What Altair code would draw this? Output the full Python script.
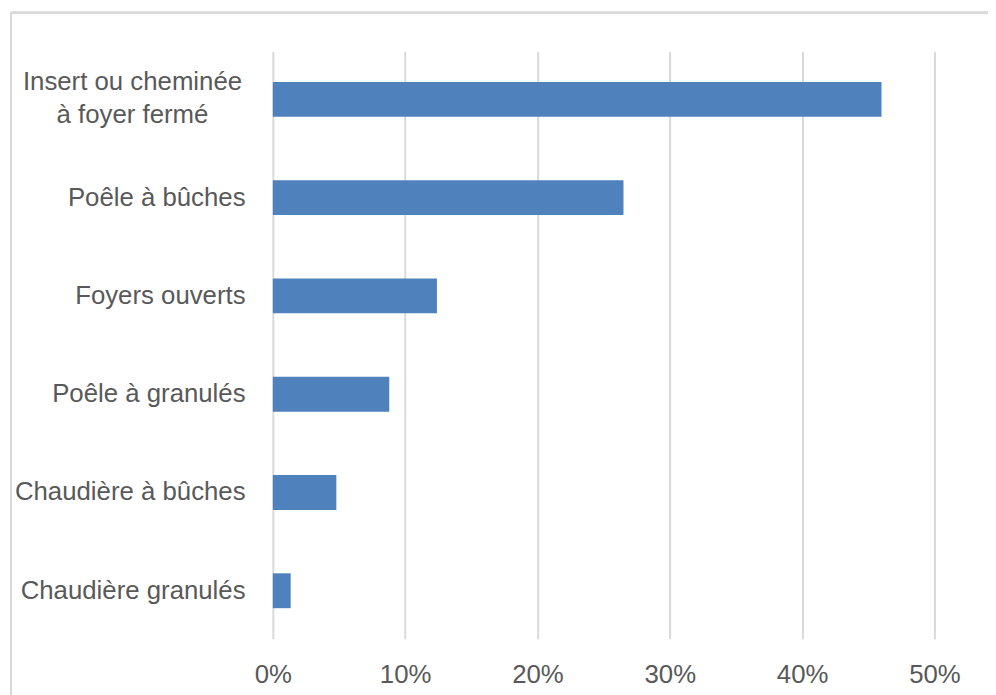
import altair as alt
import pandas as pd

categories = [
    "Insert ou cheminée à foyer fermé",
    "Poêle à bûches",
    "Foyers ouverts",
    "Poêle à granulés",
    "Chaudière à bûches",
    "Chaudière granulés",
]
values = [0.46, 0.265, 0.124, 0.088, 0.048, 0.0135]
x_ticks = [0, 0.1, 0.2, 0.3, 0.4, 0.5]

df = pd.DataFrame({"cat": categories, "val": values})

FONT = "Liberation Sans"
TXT = "#595959"
GRID = "#d9d9d9"

FIRST = "datum.value == 'Insert ou cheminée à foyer fermé'"
label_expr = f"{FIRST} ? ['Insert ou cheminée', 'à foyer fermé'] : datum.value"

bars = alt.Chart(df).mark_bar(color="#4f81bd").encode(
    x=alt.X(
        "val:Q",
        scale=alt.Scale(domain=[0, 0.5], nice=False, zero=True),
        axis=alt.Axis(
            values=x_ticks,
            format=".0%",
            title=None,
            domain=False,
            ticks=False,
            grid=True,
            gridColor=GRID,
            gridWidth=2,
            labelFont=FONT,
            labelFontSize=26,
            labelColor=TXT,
            labelPadding=23,
            labelFlush=False,
        ),
    ),
    y=alt.Y(
        "cat:N",
        sort=categories,
        scale=alt.Scale(paddingInner=0.645, paddingOuter=0.31),
        axis=alt.Axis(
            title=None,
            domain=False,
            ticks=False,
            grid=False,
            labelFont=FONT,
            labelFontSize=26,
            labelColor=TXT,
            labelPadding={"condition": {"test": FIRST, "value": 142}, "value": 28},
            labelAlign={"condition": {"test": FIRST, "value": "center"}, "value": "right"},
            labelOffset={"condition": {"test": FIRST, "value": -17}, "value": 0},
            labelLimit=400,
            labelLineHeight=33,
            labelExpr=label_expr,
        ),
    ),
)

border_left = alt.Chart(df).mark_rule(color=GRID, strokeWidth=2).encode(
    x=alt.value(-264), y=alt.value(-39), y2=alt.value(660)
)
border_top = alt.Chart(df).mark_rule(color=GRID, strokeWidth=2).encode(
    x=alt.value(-264), x2=alt.value(760), y=alt.value(-39), y2=alt.value(-39)
)

chart = (
    alt.layer(border_left, border_top, bars)
    .properties(
        width=667,
        height=592,
        background="white",
        autosize=alt.AutoSizeParams(type="none"),
        padding={"left": 267, "top": 41, "right": 54, "bottom": 54},
    )
    .configure_view(stroke="transparent", strokeWidth=0)
)

chart.save("out.html", embed_options={"renderer": "svg", "actions": False})
